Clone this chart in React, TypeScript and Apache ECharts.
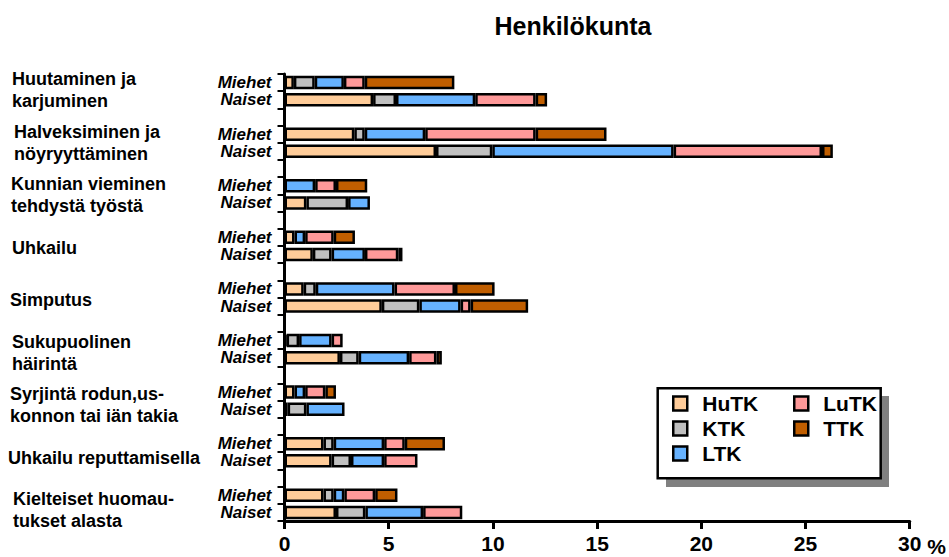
import React, { useEffect, useRef } from "react";
import * as echarts from "echarts";

const FONT = '"Liberation Sans", Arial, sans-serif';

const groupLabels = [
  "Huutaminen ja\nkarjuminen",
  "Halveksiminen ja\nnöyryyttäminen",
  "Kunnian vieminen\ntehdystä työstä",
  "Uhkailu",
  "Simputus",
  "Sukupuolinen\nhäirintä",
  "Syrjintä rodun,us-\nkonnon tai iän takia",
  "Uhkailu reputtamisella",
  "Kielteiset huomau-\ntukset alasta",
];
const genders = ["Miehet", "Naiset"];
const seriesNames = ["HuTK", "KTK", "LTK", "LuTK", "TTK"];
const seriesColors = ["#FFCC99", "#C0C0C0", "#66B2FF", "#FF9999", "#C05E00"];

// values per group: [Miehet, Naiset]
const huTK = [0.45, 4.25, 3.35, 7.27, 0, 1.05, 0.48, 1.36, 0.92, 4.67, 0.1, 2.66, 0.48, 0.15, 1.87, 2.26, 1.87, 2.47];
const kTK = [1.0, 1.1, 0.5, 2.7, 0, 2.0, 0, 0.9, 0.58, 1.8, 0.6, 0.9, 0, 0.9, 0.49, 0.93, 0.49, 1.41];
const lTK = [1.4, 3.8, 2.9, 8.7, 1.47, 1.05, 0.51, 1.6, 3.78, 1.98, 1.56, 2.42, 0.51, 1.83, 2.42, 1.59, 0.51, 2.77];
const luTK = [1.0, 2.9, 5.3, 7.12, 1.0, 0, 1.37, 1.6, 2.9, 0.48, 0.53, 1.31, 0.97, 0, 0.99, 1.6, 1.48, 1.88];
const tTK = [4.3, 0.55, 3.4, 0.52, 1.5, 0, 1.02, 0.2, 1.9, 2.76, 0, 0.26, 0.51, 0, 1.93, 0, 1.07, 0];
const seriesValues = [huTK, kTK, lTK, luTK, tTK];

const xTicks = { min: 0, max: 30, interval: 5 };

export default function App() {
  const ref = useRef<HTMLDivElement>(null);
  useEffect(() => {
    if (!ref.current) return;
    const chart = echarts.init(ref.current, null, { renderer: "svg" });

    const categories: string[] = [];
    const slotOf: number[] = [];
    groupLabels.forEach((_, g) => {
      genders.forEach((gd) => {
        slotOf.push(categories.length);
        categories.push(gd[0] + g);
      });
      if (g < groupLabels.length - 1) categories.push("B" + g);
    });

    const gridTop = 74;
    const gridBottom = 28.5;
    const height = 557;
    const slotH = (height - gridTop - gridBottom) / categories.length;

    const series = seriesNames.map((name, si) => {
      const data: (number | null)[] = categories.map(() => null);
      seriesValues[si].forEach((v, i) => {
        data[slotOf[i]] = v > 0 ? v : null;
      });
      return {
        name,
        type: "bar",
        stack: "total",
        barWidth: 13.5,
        data,
        itemStyle: { color: seriesColors[si], borderColor: "#000", borderWidth: 2.5 },
      };
    });

    const graphics: any[] = [
      {
        type: "text",
        x: 573,
        y: 26,
        style: {
          text: "Henkilökunta",
          font: `bold 25px ${FONT}`,
          fill: "#000",
          align: "center",
          verticalAlign: "middle",
        },
      },
      {
        type: "rect",
        z: 0,
        shape: { x: 666, y: 396, width: 223, height: 91 },
        style: { fill: "#808080" },
      },
      {
        type: "rect",
        z: 1,
        shape: { x: 657.7, y: 388.3, width: 223, height: 90 },
        style: { fill: "#fff", stroke: "#000", lineWidth: 2.5 },
      },
    ];
    const labelX = [12, 14, 11, 12, 10, 12, 10, 8, 13];
    groupLabels.forEach((lab, g) => {
      graphics.push({
        type: "text",
        x: labelX[g],
        y: gridTop + slotH * (3 * g + 1) - 1,
        style: {
          text: lab,
          font: `bold 18px ${FONT}`,
          lineHeight: 22,
          fill: "#000",
          align: "left",
          verticalAlign: "middle",
        },
      });
    });

    const legendBase = {
      orient: "vertical",
      top: 388,
      itemWidth: 14,
      itemHeight: 14,
      itemGap: 4,
      icon: "rect",
      z: 10,
      itemStyle: { borderColor: "#000", borderWidth: 2.5 },
      textStyle: {
        fontFamily: FONT,
        fontWeight: "bold",
        fontSize: 21,
        lineHeight: 21,
        color: "#000",
        padding: [0, 0, 0, 10],
      },
    };

    chart.setOption({
      animation: false,
      backgroundColor: "#fff",
      grid: { left: 284.5, right: 37, top: gridTop, bottom: gridBottom, containLabel: false },
      legend: [
        { ...legendBase, left: 667, data: seriesNames.slice(0, 3) },
        { ...legendBase, left: 788, data: seriesNames.slice(3) },
      ],
      xAxis: {
        type: "value",
        min: xTicks.min,
        max: xTicks.max,
        interval: xTicks.interval,
        splitLine: { show: false },
        axisLine: { show: true, lineStyle: { color: "#000", width: 3 } },
        axisTick: { show: true, length: 8, lineStyle: { color: "#000", width: 3 } },
        axisLabel: {
          fontFamily: FONT,
          fontWeight: "bold",
          fontSize: 21,
          color: "#000",
          margin: 12,
        },
        name: "%",
        nameLocation: "end",
        nameGap: 10,
        nameTextStyle: {
          fontFamily: FONT,
          fontWeight: "bold",
          fontSize: 21,
          color: "#000",
          verticalAlign: "top",
          padding: [15, 0, 0, 0],
        },
      },
      yAxis: {
        type: "category",
        inverse: true,
        data: categories,
        axisLine: { show: true, lineStyle: { color: "#000", width: 3 } },
        axisTick: { show: true, interval: 0, length: 7, lineStyle: { color: "#000", width: 2 } },
        axisLabel: {
          interval: 0,
          margin: 13,
          fontFamily: FONT,
          fontWeight: "bold",
          fontStyle: "italic",
          fontSize: 17,
          lineHeight: 16,
          color: "#000",
          formatter: (v: string) => (v[0] === "M" ? "Miehet" : v[0] === "N" ? "Naiset" : ""),
        },
      },
      graphic: graphics,
      series,
    } as any);

    return () => chart.dispose();
  }, []);

  return <div ref={ref} style={{ width: 949, height: 557, position: "absolute", left: 0, top: 0 }} />;
}
